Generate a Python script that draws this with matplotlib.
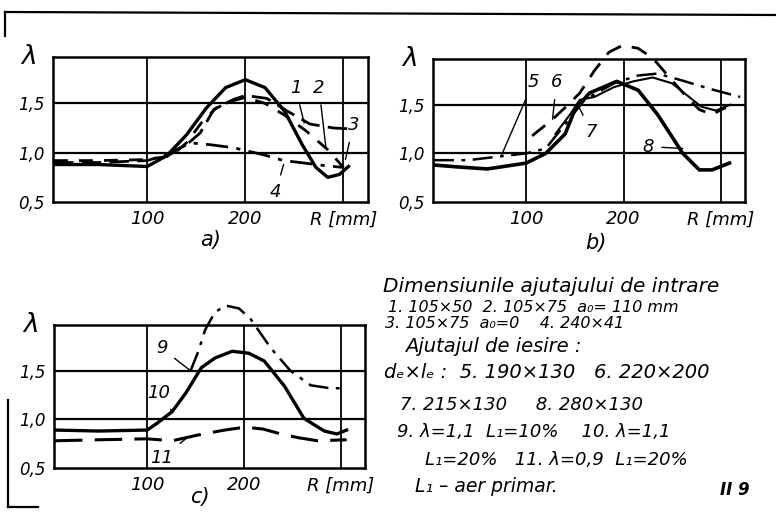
import numpy as np
import matplotlib.pyplot as plt
from matplotlib.lines import Line2D

plt.rcParams['font.family'] = ['DejaVu Sans']
plt.rcParams['font.style'] = 'italic'

# a) ajutaje de intrare 1..4
r1 = [5, 50, 100, 120, 140, 154, 168, 188, 200, 222, 243, 266, 290, 311]
l1 = [0.9, 0.9, 0.92, 0.98, 1.08, 1.2, 1.44, 1.54, 1.58, 1.55, 1.42, 1.29, 1.25, 1.24]
r2 = [5, 50, 100, 125, 140, 155, 170, 185, 200, 220, 240, 262, 284, 300]
l2 = [0.92, 0.92, 0.93, 0.97, 1.1, 1.3, 1.45, 1.52, 1.56, 1.5, 1.38, 1.22, 1.03, 0.85]
r3 = [5, 50, 100, 120, 140, 160, 180, 200, 220, 240, 258, 272, 284, 296, 305]
l3 = [0.88, 0.88, 0.86, 0.97, 1.18, 1.45, 1.66, 1.74, 1.66, 1.42, 1.08, 0.85, 0.75, 0.78, 0.86]
r4 = [120, 132, 144, 165, 188, 218, 239, 256, 280, 300]
l4 = [0.96, 1.04, 1.1, 1.08, 1.05, 0.98, 0.92, 0.9, 0.87, 0.85]

# b) ajutaje de iesire 5..8
r5 = [5, 40, 74, 100, 120, 140, 160, 190, 215, 235, 260, 290, 320]
l5 = [0.93, 0.93, 0.97, 1.0, 1.05, 1.3, 1.55, 1.72, 1.8, 1.82, 1.75, 1.66, 1.58]
r6 = [106, 127, 141, 155, 170, 185, 199, 215, 230, 250, 265, 278, 291, 305]
l6 = [1.18, 1.35, 1.48, 1.62, 1.85, 2.04, 2.11, 2.08, 1.98, 1.75, 1.58, 1.45, 1.4, 1.47]
r7 = [130, 145, 155, 170, 190, 210, 230, 250, 265, 280, 295, 310]
l7 = [1.2, 1.4, 1.55, 1.58, 1.68, 1.74, 1.78, 1.72, 1.6, 1.48, 1.44, 1.5]
r8 = [5, 30, 60, 100, 120, 140, 150, 165, 193, 215, 235, 261, 278, 291, 309]
l8 = [0.88, 0.86, 0.84, 0.9, 1.0, 1.2, 1.45, 1.62, 1.74, 1.65, 1.4, 1.0, 0.83, 0.83, 0.9]

# c) influenta lui lambda si L1: 9..11
r9 = [145, 153, 160, 170, 181, 195, 207, 228, 248, 269, 289, 306]
l9 = [1.5, 1.7, 1.92, 2.1, 2.17, 2.14, 2.03, 1.73, 1.5, 1.35, 1.32, 1.32]
r10 = [5, 50, 100, 109, 126, 140, 156, 170, 188, 205, 221, 242, 262, 283, 296, 306]
l10 = [0.89, 0.88, 0.89, 0.95, 1.08, 1.27, 1.53, 1.63, 1.7, 1.68, 1.6, 1.34, 1.01, 0.88, 0.85, 0.89]
r11 = [5, 50, 100, 126, 153, 180, 201, 220, 238, 257, 276, 306]
l11 = [0.78, 0.79, 0.8, 0.78, 0.84, 0.89, 0.92, 0.9, 0.85, 0.81, 0.78, 0.79]

ytick_vals = [0.5, 1.0, 1.5]
ytick_txt = ['0,5', '1,0', '1,5']
xtick_vals = [100, 200, 300]
xtick_txt = ['100', '200', 'R [mm]']

fig = plt.figure(figsize=(7.76, 5.13), dpi=100)
W, H = 776, 513


def make_ax(x0, y0, x1, y1):
    ax = fig.add_axes([x0 / W, 1 - y1 / H, (x1 - x0) / W, (y1 - y0) / H])
    ax.set_xlim(4, 325)
    ax.set_ylim(0.5, 1.97)
    for s in ax.spines.values():
        s.set_linewidth(1.8)
    for v in xtick_vals:
        ax.axvline(v, color='k', lw=1.3)
    for v in ytick_vals[1:]:
        ax.axhline(v, color='k', lw=1.6)
    ax.set_xticks(xtick_vals)
    ax.set_xticklabels(xtick_txt, fontsize=13)
    ax.set_yticks(ytick_vals)
    ax.set_yticklabels(ytick_txt, fontsize=12)
    ax.tick_params(length=0, pad=6)
    ax.text(-0.075, 1.0, 'λ', transform=ax.transAxes, fontsize=19, ha='center', va='center')
    return ax


def leader(ax, txt, xy, xytext):
    ax.annotate(txt, xy=xy, xytext=xytext, fontsize=13, ha='center', va='center',
                annotation_clip=False,
                arrowprops=dict(arrowstyle='-', color='k', lw=1, shrinkA=4, shrinkB=0))


# a)
ax = make_ax(53, 57, 368, 202)
ax.plot(r1, l1, color='k', lw=2, ls=(0, (7, 3)))
ax.plot(r2, l2, color='k', lw=2, ls=(0, (5, 4)))
ax.plot(r3, l3, color='k', lw=2.4)
ax.plot(r4, l4, color='k', lw=2, ls=(0, (8, 3, 1.5, 3)))
leader(ax, '1', (260, 1.3), (251, 1.66))
leader(ax, '2', (282, 1.06), (275, 1.66))
leader(ax, '3', (302, 0.93), (310, 1.28))
leader(ax, '4', (239, 0.88), (231, 0.6))
ax.text(165, 0.11, 'a)', fontsize=15, ha='center', va='center', clip_on=False)

# b)
ax = make_ax(433, 59, 745, 202)
ax.plot(r5, l5, color='k', lw=1.8, ls=(0, (8, 3, 1.5, 3)), clip_on=False)
ax.plot(r6, l6, color='k', lw=2, ls=(0, (6, 4)), clip_on=False)
ax.plot(r7, l7, color='k', lw=1.5)
ax.plot(r8, l8, color='k', lw=2.6)
leader(ax, '5', (74, 0.97), (107, 1.73))
leader(ax, '6', (127, 1.35), (131, 1.73))
leader(ax, '7', (153, 1.5), (167, 1.22))
leader(ax, '8', (261, 1.05), (225, 1.07))
ax.text(172, 0.08, 'b)', fontsize=15, ha='center', va='center', clip_on=False)

# c)
ax = make_ax(54, 325, 365, 468)
ax.plot(r9, l9, color='k', lw=1.8, ls=(0, (8, 3, 1.5, 3)), clip_on=False)
ax.plot(r10, l10, color='k', lw=2.4)
ax.plot(r11, l11, color='k', lw=2.2, ls=(0, (9, 4)))
leader(ax, '9', (145, 1.5), (115, 1.73))
leader(ax, '10', (126, 1.08), (112, 1.27))
leader(ax, '11', (140, 0.8), (115, 0.6))
ax.text(155, 0.2, 'c)', fontsize=15, ha='center', va='center', clip_on=False)

# legenda (text)
fig.text(383 / W, 1 - 287 / H, 'Dimensiunile ajutajului de intrare', fontsize=14.5, va='center')
legend_lines = [
    (388, 307, '1. 105×50  2. 105×75  a₀= 110 mm', 11.5),
    (385, 324, '3. 105×75  a₀=0    4. 240×41', 11.5),
    (405, 346, 'Ajutajul de iesire :', 14),
    (384, 372, 'dₑ×lₑ :  5. 190×130   6. 220×200', 14),
    (400, 405, '7. 215×130     8. 280×130', 13),
    (397, 432, '9. λ=1,1  L₁=10%    10. λ=1,1', 13),
    (425, 460, 'L₁=20%   11. λ=0,9  L₁=20%', 13),
    (415, 487, 'L₁ – aer primar.', 13.5),
]
for x, y, s, fs in legend_lines:
    fig.text(x / W, 1 - y / H, s, fontsize=fs, va='center')
fig.text(720 / W, 1 - 490 / H, 'II 9', fontsize=12, va='center', weight='bold')

# rama desenata
frame = [([5, 776], [12, 15]), ([5, 5], [12, 36]), ([8, 8], [400, 507]), ([8, 38], [507, 507])]
for xs, ys in frame:
    fig.add_artist(Line2D([x / W for x in xs], [1 - y / H for y in ys], color='k', lw=1.6))

fig.savefig('out.png', dpi=100)
